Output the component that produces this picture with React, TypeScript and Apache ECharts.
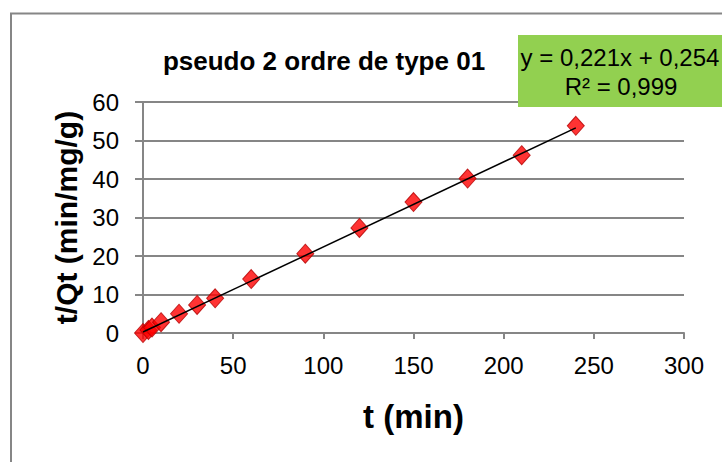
import React, { useEffect, useRef } from "react";
import * as echarts from "echarts";

const tValues = [0, 3, 5, 10, 20, 30, 40, 60, 90, 120, 150, 180, 210, 240];
const tqValues = [0, 0.8, 1.4, 2.8, 5.0, 7.3, 9.0, 14.0, 20.6, 27.3, 34.0, 40.1, 46.2, 53.8];
const trendX = [0, 240];
const trendY = [0.254, 53.294];
const titleText = "pseudo 2 ordre de type 01";
const eqLine1 = "y = 0,221x + 0,254";
const eqLine2 = "R² = 0,999";
const xName = "t (min)";
const yName = "t/Qt (min/mg/g)";

const FONT = "'Liberation Sans', Arial, sans-serif";
const GRAY = "#868686";

export default function App() {
  const ref = useRef<HTMLDivElement>(null);
  useEffect(() => {
    if (!ref.current) return;
    const chart = echarts.init(ref.current, null, { renderer: "svg" });
    chart.setOption({
      animation: false,
      backgroundColor: "#ffffff",
      grid: { left: 143, right: 38, top: 102, bottom: 129 },
      xAxis: {
        type: "value",
        min: 0,
        max: 300,
        interval: 50,
        name: xName,
        nameLocation: "middle",
        nameGap: 67,
        nameTextStyle: { fontFamily: FONT, fontSize: 33, fontWeight: "bold", color: "#000" },
        axisLine: { show: true, lineStyle: { color: GRAY, width: 2 } },
        axisTick: { show: true, length: 6, lineStyle: { color: GRAY, width: 2 } },
        axisLabel: { fontFamily: FONT, fontSize: 24, color: "#000", margin: 20 },
        splitLine: { show: false },
      },
      yAxis: {
        type: "value",
        min: 0,
        max: 60,
        interval: 10,
        name: yName,
        nameLocation: "middle",
        nameGap: 60,
        nameRotate: 90,
        nameTextStyle: { fontFamily: FONT, fontSize: 30, fontWeight: "bold", color: "#000" },
        axisLine: { show: true, lineStyle: { color: GRAY, width: 2 } },
        axisTick: { show: true, length: 8, lineStyle: { color: GRAY, width: 2 } },
        axisLabel: { fontFamily: FONT, fontSize: 24, color: "#000", margin: 24 },
        splitLine: { show: true, lineStyle: { color: GRAY, width: 2 } },
      },
      graphic: [
        {
          type: "rect",
          shape: { x: 11, y: 13.5, width: 900, height: 700 },
          style: { fill: "none", stroke: GRAY, lineWidth: 2 },
          z: 0,
        },
        {
          type: "text",
          x: 324,
          y: 61,
          style: {
            text: titleText,
            fontFamily: FONT,
            fontSize: 26,
            fontWeight: "bold",
            fill: "#000",
            textAlign: "center",
            textVerticalAlign: "middle",
          },
        },
        {
          type: "rect",
          shape: { x: 518, y: 35, width: 210, height: 72 },
          style: { fill: "#92D050" },
          z: 10,
        },
        {
          type: "text",
          x: 620,
          y: 57,
          z: 11,
          style: {
            text: eqLine1,
            fontFamily: FONT,
            fontSize: 24,
            fill: "#000",
            textAlign: "center",
            textVerticalAlign: "middle",
          },
        },
        {
          type: "text",
          x: 621,
          y: 86,
          z: 11,
          style: {
            text: eqLine2,
            fontFamily: FONT,
            fontSize: 24,
            fill: "#000",
            textAlign: "center",
            textVerticalAlign: "middle",
          },
        },
      ],
      series: [
        {
          type: "scatter",
          data: tValues.map((t, i) => [t, tqValues[i]]),
          symbol: "diamond",
          symbolSize: [17, 19],
          itemStyle: { color: "#FF0000", borderColor: "#B40000", borderWidth: 1 },
          z: 3,
        },
        {
          type: "line",
          data: trendX.map((x, i) => [x, trendY[i]]),
          showSymbol: false,
          symbol: "none",
          lineStyle: { color: "#000", width: 1.5 },
          z: 4,
        },
      ],
    });
    return () => chart.dispose();
  }, []);
  return (
    <div
      ref={ref}
      style={{ position: "absolute", left: 0, top: 0, width: 722, height: 462 }}
    />
  );
}
